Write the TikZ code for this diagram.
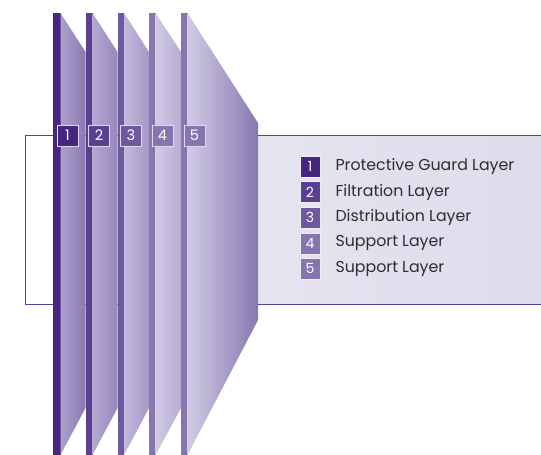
\documentclass[tikz,border=0pt]{standalone}
\usepackage{fontspec}
\setmainfont{Poppins}
\usetikzlibrary{positioning}

\definecolor{lay1}{RGB}{70,39,127}
\definecolor{lay2}{RGB}{91,63,145}
\definecolor{lay3}{RGB}{110,88,160}
\definecolor{lay4}{RGB}{134,118,174}
\definecolor{pan1a}{RGB}{173,159,205}
\definecolor{pan1b}{RGB}{139,121,178}
\definecolor{pan2a}{RGB}{181,169,211}
\definecolor{pan2b}{RGB}{151,134,186}
\definecolor{pan3a}{RGB}{194,185,220}
\definecolor{pan3b}{RGB}{165,151,197}
\definecolor{pan4a}{RGB}{209,203,229}
\definecolor{pan4b}{RGB}{183,172,211}
\definecolor{pan5b}{RGB}{136,120,176}
\definecolor{bgA}{RGB}{232,230,242}
\definecolor{bgB}{RGB}{222,219,235}
\definecolor{keygray}{RGB}{45,45,50}

\tikzset{
	tag/.style={draw=white!80!lay2, line width=0.8pt, text=white, minimum size=21pt, inner sep=0pt, font=\fontsize{14.5}{14.5}\selectfont},
	key/.style={draw=white!90!lay2, line width=0.6pt, text=white, minimum width=20pt, minimum height=21pt, inner sep=0pt, font=\fontsize{14}{14}\selectfont},
	keytext/.style={text=keygray, inner sep=0pt, font=\fontsize{15.8}{15.8}\selectfont}
}

\begin{document}
\begin{tikzpicture}[x=1pt, y=-1pt, node distance=4pt]
	\useasboundingbox (0,0) rectangle (541,455);

	% band behind the plates
	\fill[white] (25,135) rectangle (200,304);
	\shade[left color=bgA, right color=bgB] (200,135) rectangle (541,304);
	\draw[lay2, line width=0.9pt] (542,135) -- (25,135) -- (25,304) -- (542,304);

	% plate 1
	\fill[lay1] (53,13) rectangle (60.5,455);
	\shade[left color=pan1a, right color=pan1b] (60.5,13) -- (85.5,52) -- (85.5,408) -- (60.5,455) -- cycle;
	% plate 2
	\fill[lay2] (85.5,13) rectangle (92.5,455);
	\shade[left color=pan2a, right color=pan2b] (92.5,13) -- (117.5,52) -- (117.5,408) -- (92.5,455) -- cycle;
	% plate 3
	\fill[lay3] (117.5,13) rectangle (124,455);
	\shade[left color=pan3a, right color=pan3b] (124,13) -- (149,52) -- (149,408) -- (124,455) -- cycle;
	% plate 4
	\fill[lay4] (149,13) rectangle (155.5,455);
	\shade[left color=pan4a, right color=pan4b] (155.5,13) -- (181,52) -- (181,408) -- (155.5,455) -- cycle;
	% plate 5, the wide one
	\fill[lay4] (181,13) rectangle (187.5,455);
	\shade[left color=pan4a, right color=pan5b] (187.5,13) -- (258,123) -- (258,320) -- (187.5,455) -- cycle;

	% numbers on the plates
	\node [tag, fill=lay1] (tag1) at (67.5,135.5) {1};
	\node [tag, fill=lay2] (tag2) at (99,135.5)   {2};
	\node [tag, fill=lay3] (tag3) at (131,135.5)  {3};
	\node [tag, fill=lay4] (tag4) at (162.5,135.5) {4};
	\node [tag, fill=lay4] (tag5) at (194.5,135.5) {5};

	% legend
	\node [key, fill=lay1] (key1) at (310,166.5) {1};
	\node [key, fill=lay2] (key2) [below=of key1] {2};
	\node [key, fill=lay3] (key3) [below=of key2] {3};
	\node [key, fill=lay4] (key4) [below=of key3] {4};
	\node [key, fill=lay4] (key5) [below=of key4] {5};

	\node [keytext] (name1) [right=15pt of key1] {Protective Guard Layer};
	\node [keytext] (name2) [right=15pt of key2] {Filtration Layer};
	\node [keytext] (name3) [right=15pt of key3] {Distribution Layer};
	\node [keytext] (name4) [right=15pt of key4] {Support Layer};
	\node [keytext] (name5) [right=15pt of key5] {Support Layer};
\end{tikzpicture}
\end{document}
